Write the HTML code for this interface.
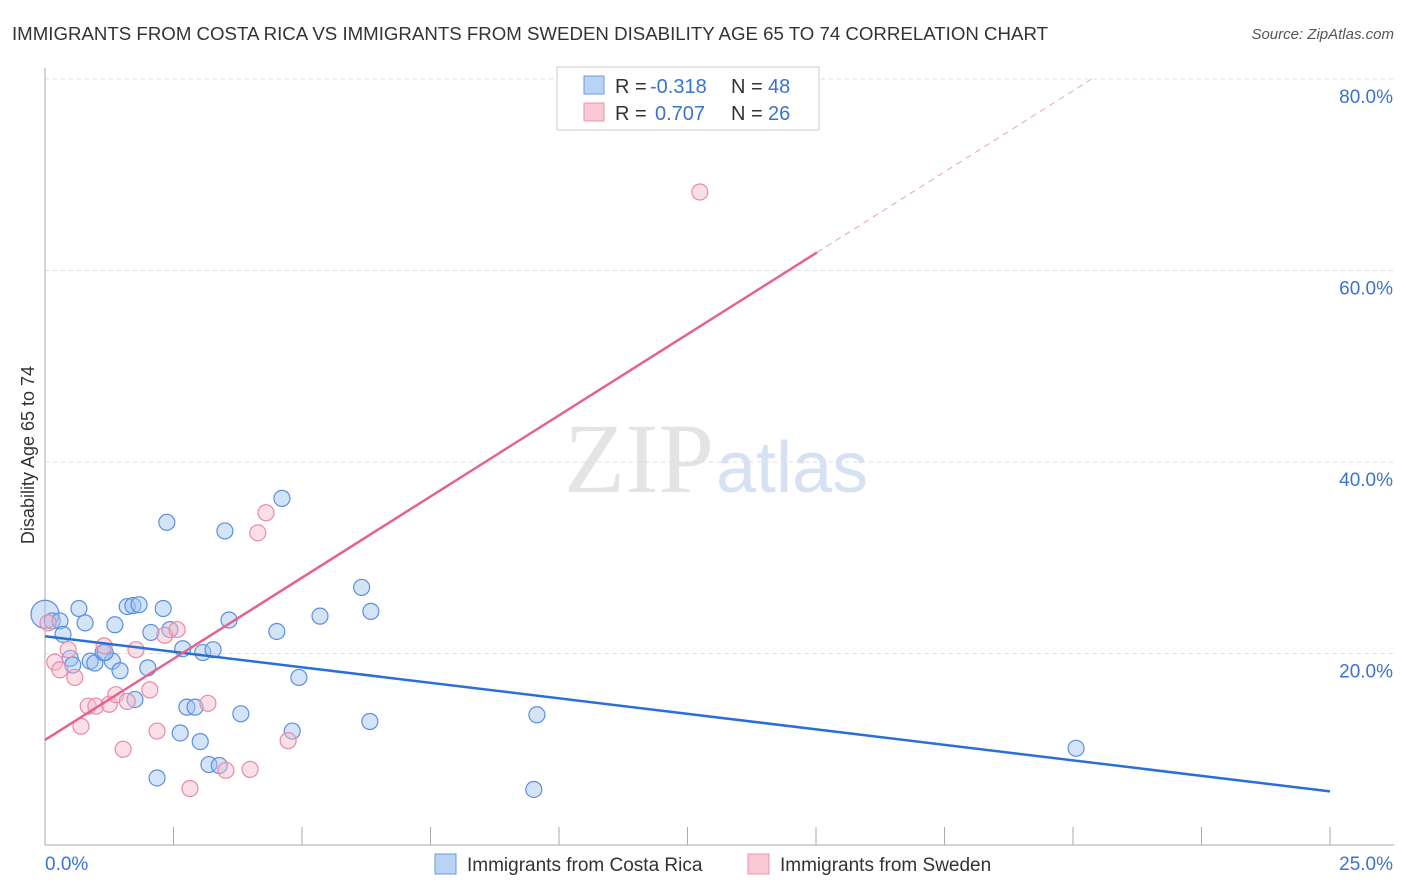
<!DOCTYPE html>
<html><head><meta charset="utf-8"><style>
body{margin:0;background:#fff;font-family:"Liberation Sans",sans-serif;}
</style></head><body>
<svg id="chart" width="1406" height="892" xmlns="http://www.w3.org/2000/svg" style="display:block">
<text x="12" y="40" font-size="18" fill="#333" textLength="1036" lengthAdjust="spacingAndGlyphs">IMMIGRANTS FROM COSTA RICA VS IMMIGRANTS FROM SWEDEN DISABILITY AGE 65 TO 74 CORRELATION CHART</text>
<text x="1394" y="39" font-size="15" fill="#555" font-style="italic" text-anchor="end">Source: ZipAtlas.com</text>
<text x="714" y="492" font-size="100" fill="#e4e4e4" text-anchor="end" font-family="Liberation Serif">ZIP</text>
<text x="716" y="492" font-size="72" fill="#d6e2f3">atlas</text>
<g id="grid"></g><g id="marks"></g>
<text x="34" y="455" font-size="18" fill="#333" text-anchor="middle" transform="rotate(-90 34 455)">Disability Age 65 to 74</text>
<g>
<rect x="557" y="67" width="262" height="63" fill="#fff" stroke="#ccc"/>
<rect x="584" y="76" width="20" height="18" fill="#b9d3f5" stroke="#6a9be0"/>
<rect x="584" y="103" width="20" height="18" fill="#f9c9d6" stroke="#e894ad"/>
<text x="615" y="93" font-size="20" fill="#333">R =</text>
<text x="650" y="93" font-size="20" fill="#3a73d0">-0.318</text>
<text x="731" y="93" font-size="20" fill="#333">N =</text>
<text x="768" y="93" font-size="20" fill="#3a73d0">48</text>
<text x="615" y="120" font-size="20" fill="#333">R =</text>
<text x="655" y="120" font-size="20" fill="#3a73d0">0.707</text>
<text x="731" y="120" font-size="20" fill="#333">N =</text>
<text x="768" y="120" font-size="20" fill="#3a73d0">26</text>
</g>
<g>
<rect x="435" y="854" width="21" height="20" fill="#b9d3f5" stroke="#6a9be0"/>
<text x="467" y="871" font-size="19" fill="#333">Immigrants from Costa Rica</text>
<rect x="748" y="854" width="21" height="20" fill="#f9c9d6" stroke="#e894ad"/>
<text x="780" y="871" font-size="19" fill="#333">Immigrants from Sweden</text>
</g>
</svg>
<script>
const blueX=[0,0.14,0.29,0.35,0.66,0.78,0.49,0.54,0.88,0.97,1.13,1.31,1.36,1.46,1.6,1.71,1.83,1.75,2.0,2.06,2.3,2.37,2.43,2.63,2.68,2.76,2.92,3.02,3.07,3.19,3.27,3.39,3.5,3.58,3.81,4.51,4.61,4.81,4.94,5.35,6.16,6.32,6.34,9.57,9.51,20.06,2.18,1.17];
const blueY=[24.1,23.4,23.4,22.0,24.7,23.2,19.5,18.8,19.2,19.0,20.1,19.2,23.0,18.2,24.9,25.0,25.1,15.2,18.5,22.2,24.7,33.7,22.5,11.7,20.5,14.4,14.4,10.8,20.1,8.4,20.4,8.3,32.8,23.5,13.7,22.3,36.2,11.9,17.5,23.9,26.9,12.9,24.4,13.6,5.8,10.1,7.0,20.1];
const pinkX=[0.06,0.19,0.29,0.45,0.58,0.7,0.84,0.99,1.15,1.25,1.38,1.52,1.6,1.77,2.04,2.18,2.33,2.57,2.82,3.17,3.52,3.99,4.14,4.3,4.73,12.74];
const pinkY=[23.2,19.1,18.3,20.4,17.5,12.4,14.5,14.5,20.8,14.7,15.7,10.0,15.0,20.4,16.2,11.9,21.9,22.5,5.9,14.8,7.8,7.9,32.6,34.7,10.9,68.2];
const blueTrend=[21.8,5.6];
const pinkTrend=[10.97,3.39];
const yTicks=[20,40,60,80];
const yTickLabels=["20.0%","40.0%","60.0%","80.0%"];
const xTicks=[0,2.5,5,7.5,10,12.5,15,17.5,20,22.5,25];
const NS="http://www.w3.org/2000/svg";
const sx=v=>45+v*51.4, sy=v=>845-v*9.575;
function mk(tag,attrs,parent){const e=document.createElementNS(NS,tag);for(const k in attrs)e.setAttribute(k,attrs[k]);document.getElementById(parent).appendChild(e);return e;}
const g='grid';
yTicks.forEach((t,i)=>{
 let l=mk('line',{x1:45,x2:1394,y1:sy(t),y2:sy(t),stroke:'#ddd','stroke-dasharray':'4,4'},g);
 
 
 let tx=mk('text',{x:1393,y:sy(t)+24,'font-size':19,fill:'#3a73d0','text-anchor':'end'},g);
 tx.textContent=yTickLabels[i];
 
 
});
let ax=mk('line',{x1:45,x2:45,y1:68,y2:845,stroke:'#aaa'},g);


let bx=mk('line',{x1:45,x2:1394,y1:845,y2:845,stroke:'#aaa'},g);


xTicks.forEach(t=>{let l=mk('line',{x1:sx(t),x2:sx(t),y1:827,y2:845,stroke:'#aaa'},g);
 
 });
let x0=mk('text',{x:45,y:870,'font-size':19,fill:'#3a73d0'},g);x0.textContent='0.0%';


let x1=mk('text',{x:1393,y:870,'font-size':19,fill:'#3a73d0','text-anchor':'end'},g);x1.textContent='25.0%';


const m='marks';
blueX.forEach((x,i)=>{let c=mk('circle',{cx:sx(x),cy:sy(blueY[i]),r:i==0?14:8,fill:'rgba(160,196,240,0.45)',stroke:'#5a8fdc','stroke-width':1.2},m);
 
 });
pinkX.forEach((x,i)=>{let c=mk('circle',{cx:sx(x),cy:sy(pinkY[i]),r:8,fill:'rgba(247,184,202,0.45)',stroke:'#e88aa7','stroke-width':1.2},m);
 
 });
let bl=mk('line',{x1:sx(0),y1:sy(blueTrend[0]),x2:sx(25),y2:sy(blueTrend[1]),stroke:'#2a6fd6','stroke-width':2.5},m);


const pe=15.02, pd=(80-pinkTrend[0])/pinkTrend[1];
let pl=mk('line',{x1:sx(0),y1:sy(pinkTrend[0]),x2:sx(pe),y2:sy(pinkTrend[0]+pinkTrend[1]*pe),stroke:'#e4638c','stroke-width':2.5},m);


let pdl=mk('line',{x1:sx(pe),y1:sy(pinkTrend[0]+pinkTrend[1]*pe),x2:sx(pd),y2:sy(80),stroke:'#eaa0b8','stroke-width':1,'stroke-dasharray':'6,5'},m);


</script>
</body></html>
